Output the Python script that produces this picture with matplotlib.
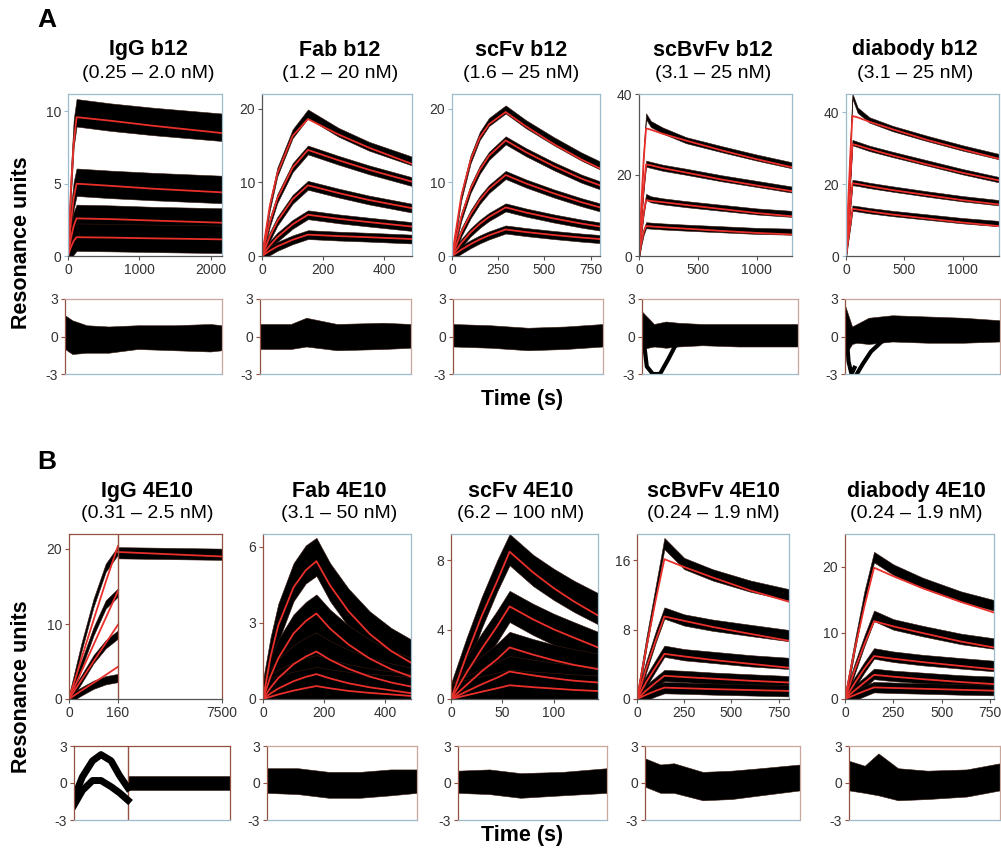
import numpy as np
import matplotlib
matplotlib.use("Agg")
import matplotlib.pyplot as plt

plt.rcParams["font.family"] = ["Liberation Sans", "DejaVu Sans"]

# ---------------- panel A: b12 constructs ----------------
titles_a = ["IgG b12", "Fab b12", "scFv b12", "scBvFv b12", "diabody b12"]
conc_a = ["(0.25 \u2013 2.0 nM)", "(1.2 \u2013 20 nM)", "(1.6 \u2013 25 nM)",
          "(3.1 \u2013 25 nM)", "(3.1 \u2013 25 nM)"]

igg_b12_t = [0, 40, 80, 120, 600, 1200, 2160]
igg_b12_fit = [[0, 4.5, 7.8, 9.6, 9.35, 9.0, 8.5],
               [0, 2.3, 4.0, 5.0, 4.85, 4.65, 4.4],
               [0, 1.2, 2.1, 2.6, 2.55, 2.45, 2.3],
               [0, 0.6, 1.05, 1.3, 1.27, 1.22, 1.15]]
igg_b12_obs = [[0, 5.0, 8.5, 9.9, 9.6, 9.3, 8.9],
               [0, 2.4, 4.2, 5.1, 4.95, 4.8, 4.6],
               [0, 1.2, 2.1, 2.6, 2.55, 2.45, 2.35],
               [0, 0.6, 1.05, 1.3, 1.27, 1.22, 1.15]]

fab_b12_t = [0, 25, 50, 100, 150, 250, 350, 490]
fab_b12_fit = [[0, 6.7, 11.2, 16.3, 18.6, 16.5, 14.7, 12.5],
               [0, 4.5, 7.8, 12.0, 14.4, 13.0, 11.7, 10.1],
               [0, 2.6, 4.7, 7.7, 9.6, 8.55, 7.6, 6.5],
               [0, 1.4, 2.55, 4.3, 5.6, 5.05, 4.6, 4.0],
               [0, 0.7, 1.3, 2.2, 2.9, 2.7, 2.55, 2.3]]
fab_b12_obs = [[0, 6.7, 11.4, 16.6, 19.3, 16.8, 14.9, 12.9]] + fab_b12_fit[1:]

scfv_b12_t = [0, 50, 100, 150, 200, 290, 400, 550, 700, 800]
scfv_b12_fit = [[0, 8.1, 13.0, 16.1, 17.9, 19.55, 17.6, 15.2, 13.1, 11.9],
                [0, 5.3, 9.1, 11.7, 13.6, 15.7, 14.1, 12.2, 10.5, 9.6],
                [0, 3.2, 5.65, 7.6, 9.1, 11.0, 9.85, 8.5, 7.3, 6.6],
                [0, 1.75, 3.2, 4.35, 5.3, 6.6, 5.9, 5.1, 4.4, 4.0],
                [0, 0.85, 1.6, 2.25, 2.8, 3.6, 3.25, 2.85, 2.5, 2.3]]
scfv_b12_obs = [[0, 8.1, 13.1, 16.3, 18.2, 19.9, 17.9, 15.6, 13.5, 12.3]] + scfv_b12_fit[1:]

scbvfv_b12_t = [0, 20, 40, 60, 100, 200, 400, 700, 1000, 1300]
scbvfv_b12_fit = [[0, 13, 24, 31.5, 31.2, 30.2, 28.5, 26.1, 23.9, 21.9],
                  [0, 9.5, 17, 22.6, 22.4, 21.7, 20.6, 18.9, 17.4, 16.0],
                  [0, 6, 10.8, 13.8, 13.6, 13.3, 12.6, 11.6, 10.6, 9.8],
                  [0, 3.4, 6, 7.4, 7.3, 7.1, 6.75, 6.2, 5.7, 5.3]]
scbvfv_b12_obs = [[0, 14, 26, 34.5, 32.6, 31.0, 28.6, 26.4, 24.3, 22.4],
                  [0, 9.5, 17, 22.8, 22.5, 21.8, 20.8, 19.2, 17.8, 16.4],
                  [0, 6, 11, 14.6, 14.0, 13.5, 12.8, 11.9, 11.0, 10.4],
                  [0, 3.4, 6, 7.6, 7.5, 7.3, 7.0, 6.6, 6.2, 6.0]]

diabody_b12_t = [0, 20, 40, 55, 100, 200, 400, 700, 1000, 1310]
diabody_b12_fit = [[0, 16, 30, 38.9, 38.5, 37.3, 35.2, 32.2, 29.6, 27.0],
                   [0, 12, 23, 31.1, 30.7, 29.7, 27.9, 25.4, 23.1, 21.0],
                   [0, 8, 15, 20.2, 20.0, 19.4, 18.3, 16.9, 15.5, 14.3],
                   [0, 5, 9.5, 13.1, 12.9, 12.4, 11.5, 10.4, 9.3, 8.3]]
diabody_b12_obs = [[0, 18, 34, 44.4, 40.5, 37.8, 35.4, 32.6, 30.0, 27.6],
                   [0, 12, 23, 31.5, 31.0, 29.9, 28.2, 25.8, 23.4, 21.2],
                   [0, 8, 15, 20.4, 20.2, 19.6, 18.6, 17.2, 15.9, 14.8],
                   [0, 5, 9.5, 13.3, 13.1, 12.6, 11.8, 10.8, 9.8, 9.0]]

noise_a = [0.95, 0.6, 0.55, 0.75, 0.75]
xlim_a = [2160, 490, 800, 1300, 1310]
ylim_a = [11.2, 22, 22, 40, 45]
xticks_a = [[0, 1000, 2000], [0, 200, 400], [0, 250, 500, 750], [0, 500, 1000], [0, 500, 1000]]
yticks_a = [[0, 5, 10], [0, 10, 20], [0, 10, 20], [0, 20, 40], [0, 20, 40]]

# residual envelopes, panel A
res_a_t = [[0, 100, 300, 600, 1000, 1500, 2000, 2160],
           [0, 100, 150, 250, 400, 490],
           [0, 200, 400, 600, 800],
           [0, 100, 200, 300, 500, 800, 1000, 1300],
           [0, 60, 100, 200, 400, 700, 1000, 1310]]
res_a_hi = [[1.7, 1.3, 0.9, 0.8, 0.9, 0.9, 1.0, 0.9],
            [1.0, 1.0, 1.5, 1.0, 1.1, 1.0],
            [1.0, 0.9, 0.7, 0.8, 1.0],
            [2.0, 1.0, 1.2, 1.1, 1.0, 1.0, 1.0, 1.0],
            [2.5, 0.8, 1.0, 1.5, 1.7, 1.6, 1.5, 1.3]]
res_a_lo = [[-1.0, -1.4, -1.3, -1.3, -1.0, -1.1, -1.2, -1.1],
            [-1.0, -1.0, -0.8, -1.1, -1.0, -0.9],
            [-0.8, -0.9, -1.1, -1.0, -0.8],
            [-1.0, -0.8, -0.9, -0.8, -0.7, -0.8, -0.8, -0.8],
            [-1.5, -0.6, -0.5, -0.6, -0.4, -0.5, -0.5, -0.4]]
# early systematic deviations (scBvFv b12, diabody b12)
dip_scbvfv_b12_t = [10, 40, 90, 150, 220, 290]
dip_scbvfv_b12_v = [0.0, -2.4, -3.0, -3.0, -1.8, -0.5]
dip_diabody_b12_t = [10, 30, 55, 80]
dip_diabody_b12_v = [0.5, -2.0, -3.0, -2.5]
dip2_diabody_b12_t = [100, 150, 220, 300]
dip2_diabody_b12_v = [-3.0, -2.2, -1.2, -0.5]

# ---------------- panel B: 4E10 constructs ----------------
titles_b = ["IgG 4E10", "Fab 4E10", "scFv 4E10", "scBvFv 4E10", "diabody 4E10"]
conc_b = ["(0.31 \u2013 2.5 nM)", "(3.1 \u2013 50 nM)", "(6.2 \u2013 100 nM)",
          "(0.24 \u2013 1.9 nM)", "(0.24 \u2013 1.9 nM)"]

igg_4e10_t = [0, 40, 80, 120, 160]
igg_4e10_fit = [[0, 5.3, 10.5, 15.6, 20.4],
                [0, 3.6, 7.2, 10.8, 14.4],
                [0, 2.5, 5.0, 7.45, 9.9],
                [0, 1.1, 2.15, 3.2, 4.3]]
igg_4e10_obs = [[0, 6.8, 12.8, 17.5, 19.8],
                [0, 4.5, 9.0, 12.6, 14.2],
                [0, 2.6, 5.3, 7.3, 8.6],
                [0, 1.0, 1.9, 2.5, 2.8]]
igg_4e10_diss_t = [160, 7500]
igg_4e10_diss_fit = [19.6, 19.0]
igg_4e10_diss_obs = [19.5, 19.3]

fab_4e10_t = [0, 25, 50, 100, 140, 175, 220, 280, 350, 420, 485]
fab_4e10_fit = [[0, 1.68, 2.9, 4.4, 5.07, 5.43, 4.47, 3.46, 2.56, 1.89, 1.43],
                [0, 0.9, 1.6, 2.58, 3.07, 3.37, 2.77, 2.15, 1.59, 1.17, 0.88],
                [0, 0.45, 0.82, 1.37, 1.67, 1.87, 1.54, 1.19, 0.88, 0.65, 0.49],
                [0, 0.22, 0.41, 0.70, 0.87, 0.98, 0.81, 0.62, 0.46, 0.34, 0.23],
                [0, 0.09, 0.18, 0.33, 0.43, 0.51, 0.42, 0.32, 0.24, 0.18, 0.12]]
fab_4e10_obs = [[0, 1.7, 3.0, 4.6, 5.3, 5.6, 4.6, 3.6, 2.7, 2.05, 1.6]] + fab_4e10_fit[1:]

scfv_4e10_t = [0, 15, 30, 45, 57, 80, 100, 120, 143]
scfv_4e10_fit = [[0, 2.5, 4.8, 6.8, 8.48, 7.28, 6.38, 5.6, 4.81],
                 [0, 1.5, 2.9, 4.2, 5.33, 4.58, 4.01, 3.52, 2.97],
                 [0, 0.8, 1.6, 2.3, 2.97, 2.55, 2.23, 1.96, 1.72],
                 [0, 0.43, 0.85, 1.23, 1.58, 1.36, 1.19, 1.05, 0.95],
                 [0, 0.21, 0.42, 0.62, 0.79, 0.68, 0.60, 0.52, 0.46]]
scfv_4e10_obs = [[0, 2.6, 5.0, 7.1, 8.6, 7.4, 6.6, 5.9, 5.2]] + scfv_4e10_fit[1:]

scbvfv_4e10_t = [0, 50, 100, 145, 250, 400, 600, 805]
scbvfv_4e10_fit = [[0, 6.0, 11.5, 16.1, 15.2, 14.0, 12.5, 11.2],
                   [0, 3.6, 6.8, 9.5, 9.0, 8.3, 7.5, 6.7],
                   [0, 2.0, 3.7, 5.2, 4.9, 4.5, 4.05, 3.6],
                   [0, 1.0, 1.9, 2.67, 2.53, 2.34, 2.1, 1.9],
                   [0, 0.5, 0.95, 1.31, 1.24, 1.14, 1.03, 0.93]]
scbvfv_4e10_obs = [[0, 6.5, 12.5, 17.9, 15.6, 14.3, 13.0, 12.0],
                   [0, 3.8, 7.2, 9.9, 9.1, 8.5, 7.9, 7.3],
                   [0, 2.1, 3.9, 5.5, 5.1, 4.8, 4.4, 4.1],
                   [0, 1.0, 1.9, 2.7, 2.6, 2.4, 2.2, 2.0],
                   [0, 0.5, 0.95, 1.3, 1.25, 1.15, 1.05, 0.95]]

diabody_4e10_t = [0, 50, 100, 150, 250, 400, 600, 770]
diabody_4e10_fit = [[0, 7.5, 14.0, 19.9, 18.6, 16.8, 14.7, 13.1],
                    [0, 4.4, 8.3, 11.8, 11.0, 10.0, 8.7, 7.8],
                    [0, 2.4, 4.6, 6.5, 6.1, 5.6, 5.0, 4.5],
                    [0, 1.3, 2.5, 3.66, 3.38, 3.01, 2.57, 2.26],
                    [0, 0.6, 1.2, 1.76, 1.67, 1.55, 1.39, 1.26]]
diabody_4e10_obs = [[0, 8.0, 15.5, 21.5, 19.6, 17.6, 15.5, 14.2],
                    [0, 4.6, 8.8, 12.6, 11.3, 10.3, 9.1, 8.4],
                    [0, 2.5, 4.8, 6.9, 6.4, 5.9, 5.4, 5.0],
                    [0, 1.3, 2.5, 3.8, 3.5, 3.2, 2.8, 2.6],
                    [0, 0.6, 1.2, 1.8, 1.7, 1.6, 1.45, 1.35]]

noise_b = [0.55, 0.75, 0.9, 0.65, 0.8]
xlim_b = [7500, 485, 143, 805, 770]
ylim_b = [22, 6.5, 9.5, 19, 25]
xticks_b = [[0, 160, 7500], [0, 200, 400], [0, 50, 100], [0, 250, 500, 750], [0, 250, 500, 750]]
yticks_b = [[0, 10, 20], [0, 3, 6], [0, 4, 8], [0, 8, 16], [0, 10, 20]]

res_b_t = [[160, 7500],
           [0, 100, 200, 300, 400, 485],
           [0, 30, 60, 100, 143],
           [0, 80, 150, 300, 450, 600, 805],
           [0, 80, 150, 250, 400, 600, 770]]
res_b_hi = [[0.55, 0.55],
            [1.2, 1.2, 0.9, 0.9, 1.1, 1.1],
            [1.0, 1.1, 0.8, 0.9, 1.2],
            [2.0, 1.5, 1.6, 0.9, 1.0, 1.2, 1.5],
            [1.8, 1.4, 2.4, 1.2, 1.0, 1.1, 1.6]]
res_b_lo = [[-0.55, -0.55],
            [-0.8, -0.9, -1.2, -1.2, -1.0, -0.8],
            [-0.8, -0.9, -1.2, -1.0, -0.8],
            [-0.3, -0.8, -0.8, -1.4, -1.3, -1.0, -0.6],
            [-0.6, -0.8, -1.0, -1.4, -1.3, -1.1, -0.6]]
# IgG 4E10 association residuals (two systematic traces)
igg_4e10_res_t = [0, 25, 55, 80, 110, 135, 160]
igg_4e10_res1 = [-1.2, 0.5, 1.8, 2.3, 1.8, 0.6, -0.4]
igg_4e10_res2 = [-1.8, -0.6, 0.2, 0.2, -0.3, -0.8, -1.4]

# ---------------- drawing ----------------
RED = "#ea2f2a"
EDGE_BLUE = "#9dbccb"
EDGE_BROWN = "#94513f"
W, H = 1001, 856

fig = plt.figure(figsize=(W / 100, H / 100), dpi=100)


def box(x0, x1, y0, y1):
    return [x0 / W, 1 - y1 / H, (x1 - x0) / W, (y1 - y0) / H]


def frame(ax, left, bottom, other):
    ax.spines["left"].set_color(left)
    ax.spines["bottom"].set_color(bottom)
    ax.spines["top"].set_color(other)
    ax.spines["right"].set_color(other)
    for sp in ax.spines.values():
        sp.set_linewidth(0.9)
    ax.tick_params(labelsize=10, length=3, width=0.8, pad=2, colors="#333333")
    ax.tick_params(axis="x", color=bottom)
    ax.tick_params(axis="y", color=left)


def sensorgram(ax, t, fit, obs, noise):
    t = np.asarray(t, float)
    for curve in obs:
        c = np.asarray(curve, float)
        ax.fill_between(t, c - noise, c + noise, color="black", lw=0.4, edgecolor="#3a1a12")
    for curve in fit:
        ax.plot(t, curve, color=RED, lw=1.3)


def residual(ax, t, lo, hi):
    ax.fill_between(t, lo, hi, color="black", lw=0.4, edgecolor="#3a1a12")


def broken_scale(frac):
    def fwd(x):
        x = np.asarray(x, float)
        return np.where(x <= 160, x / 160 * frac, frac + (x - 160) / 7340 * (1 - frac))

    def inv(u):
        u = np.asarray(u, float)
        return np.where(u <= frac, u / frac * 160, 160 + (u - frac) / (1 - frac) * 7340)
    return fwd, inv


main_a_x = [(68, 222), (262, 412), (452, 600), (639, 792), (846, 999)]
res_a_x = [(65, 222), (260, 411), (453, 603), (642, 798), (845, 1000)]
main_b_x = [(69, 222), (263, 411), (451, 598), (637, 789), (845, 994)]
res_b_x = [(74, 230), (267, 417), (458, 607), (645, 800), (849, 1000)]
title_a_x = [148, 340, 521, 713, 915]
title_b_x = [147, 339, 521, 713, 916]

data_a = [(igg_b12_t, igg_b12_fit, igg_b12_obs),
          (fab_b12_t, fab_b12_fit, fab_b12_obs),
          (scfv_b12_t, scfv_b12_fit, scfv_b12_obs),
          (scbvfv_b12_t, scbvfv_b12_fit, scbvfv_b12_obs),
          (diabody_b12_t, diabody_b12_fit, diabody_b12_obs)]
data_b = [(igg_4e10_t, igg_4e10_fit, igg_4e10_obs),
          (fab_4e10_t, fab_4e10_fit, fab_4e10_obs),
          (scfv_4e10_t, scfv_4e10_fit, scfv_4e10_obs),
          (scbvfv_4e10_t, scbvfv_4e10_fit, scbvfv_4e10_obs),
          (diabody_4e10_t, diabody_4e10_fit, diabody_4e10_obs)]

# panel A
for i in range(5):
    t, fit, obs = data_a[i]
    ax = fig.add_axes(box(main_a_x[i][0], main_a_x[i][1], 94, 256))
    sensorgram(ax, t, fit, obs, noise_a[i])
    ax.set_xlim(0, xlim_a[i])
    ax.set_ylim(0, ylim_a[i])
    ax.set_xticks(xticks_a[i])
    ax.set_yticks(yticks_a[i])
    frame(ax, "#555555" if i in (1, 3) else EDGE_BLUE, "#555555", EDGE_BLUE)

    rx = fig.add_axes(box(res_a_x[i][0], res_a_x[i][1], 299, 374))
    residual(rx, res_a_t[i], res_a_lo[i], res_a_hi[i])
    if i == 3:
        rx.plot(dip_scbvfv_b12_t, dip_scbvfv_b12_v, color="black", lw=3)
    if i == 4:
        rx.plot(dip_diabody_b12_t, dip_diabody_b12_v, color="black", lw=3)
        rx.plot(dip2_diabody_b12_t, dip2_diabody_b12_v, color="black", lw=3)
    rx.set_xlim(0, xlim_a[i])
    rx.set_ylim(-3, 3)
    rx.set_xticks([])
    rx.set_yticks([-3, 0, 3])
    rx.set_yticklabels(["-3", "0", "3"])
    frame(rx, EDGE_BROWN, EDGE_BLUE, "#c9a79c")

    fig.text(title_a_x[i] / W, 1 - 50 / H, titles_a[i], ha="center", va="center",
             fontsize=15.5, fontweight="bold")
    fig.text(title_a_x[i] / W, 1 - 73 / H, conc_a[i], ha="center", va="center", fontsize=14)

# panel B
for i in range(5):
    t, fit, obs = data_b[i]
    ax = fig.add_axes(box(main_b_x[i][0], main_b_x[i][1], 534, 699))
    rx = fig.add_axes(box(res_b_x[i][0], res_b_x[i][1], 746, 820))
    if i == 0:
        ax.set_xscale("function", functions=broken_scale(0.32))
        rx.set_xscale("function", functions=broken_scale(0.346))
    sensorgram(ax, t, fit, obs, noise_b[i])
    if i == 0:
        sensorgram(ax, igg_4e10_diss_t, [igg_4e10_diss_fit], [igg_4e10_diss_obs], 0.75)
        ax.axvline(160, color=EDGE_BROWN, lw=1)
        rx.axvline(160, color=EDGE_BROWN, lw=1)
        rx.plot(igg_4e10_res_t, igg_4e10_res1, color="black", lw=5)
        rx.plot(igg_4e10_res_t, igg_4e10_res2, color="black", lw=5)
    residual(rx, res_b_t[i], res_b_lo[i], res_b_hi[i])
    ax.set_xlim(0, xlim_b[i])
    ax.set_ylim(0, ylim_b[i])
    ax.set_xticks(xticks_b[i])
    ax.set_xticklabels([str(v) for v in xticks_b[i]])
    ax.set_yticks(yticks_b[i])
    frame(ax, EDGE_BROWN, "#555555", EDGE_BROWN if i == 0 else EDGE_BLUE)

    rx.set_xlim(0, xlim_b[i])
    rx.set_ylim(-3, 3)
    rx.set_xticks([])
    rx.set_yticks([-3, 0, 3])
    rx.set_yticklabels(["-3", "0", "3"])
    frame(rx, EDGE_BROWN, EDGE_BLUE, EDGE_BROWN if i == 0 else "#c9a79c")

    fig.text(title_b_x[i] / W, 1 - 491 / H, titles_b[i], ha="center", va="center",
             fontsize=15.5, fontweight="bold")
    fig.text(title_b_x[i] / W, 1 - 514 / H, conc_b[i], ha="center", va="center", fontsize=14)

# panel letters and shared labels
fig.text(47 / W, 1 - 20 / H, "A", ha="center", va="center", fontsize=19, fontweight="bold")
fig.text(47 / W, 1 - 462 / H, "B", ha="center", va="center", fontsize=19, fontweight="bold")
fig.text(22 / W, 1 - 243 / H, "Resonance units", rotation=90, ha="center", va="center",
         fontsize=15.5, fontweight="bold")
fig.text(22 / W, 1 - 687 / H, "Resonance units", rotation=90, ha="center", va="center",
         fontsize=15.5, fontweight="bold")
fig.text(522 / W, 1 - 399 / H, "Time (s)", ha="center", va="center", fontsize=15.5,
         fontweight="bold")
fig.text(522 / W, 1 - 836 / H, "Time (s)", ha="center", va="center", fontsize=15.5,
         fontweight="bold")

fig.savefig("out.png", dpi=100)
